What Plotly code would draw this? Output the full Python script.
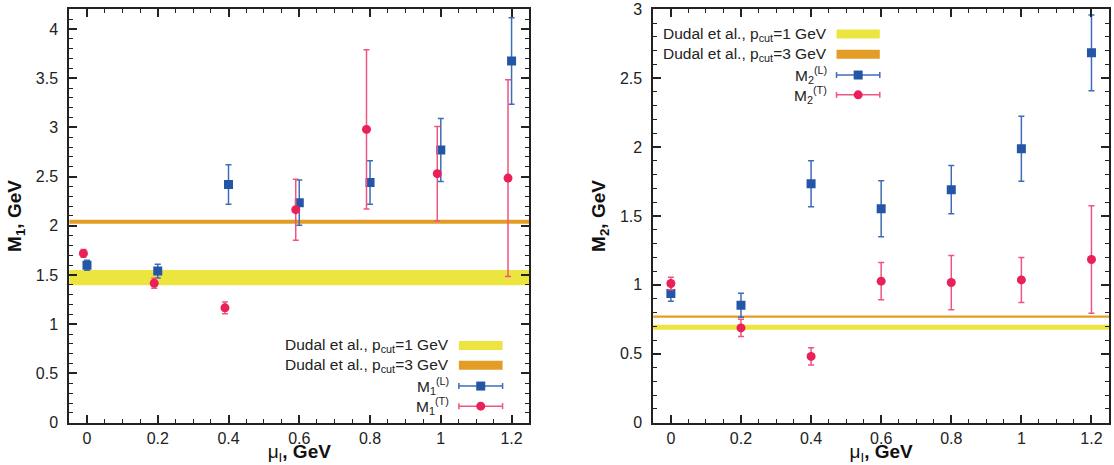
import plotly.graph_objects as go

# ---------------- data ----------------
mu = [0.0, 0.2, 0.4, 0.6, 0.8, 1.0, 1.2]
mu_T_left = [-0.01, 0.19, 0.39, 0.59, 0.79, 0.99, 1.19]

M1_L = [1.60, 1.54, 2.42, 2.235, 2.44, 2.77, 3.675]
M1_L_err = [0.05, 0.07, 0.20, 0.23, 0.22, 0.32, 0.44]
M1_T = [1.72, 1.417, 1.167, 2.164, 2.98, 2.53, 2.485]
M1_T_err = [0.04, 0.05, 0.06, 0.31, 0.81, 0.48, 1.0]

M2_L = [0.937, 0.853, 1.734, 1.553, 1.691, 1.988, 2.684]
M2_L_err = [0.055, 0.087, 0.167, 0.203, 0.175, 0.235, 0.275]
M2_T = [1.01, 0.688, 0.481, 1.027, 1.017, 1.036, 1.184]
M2_T_err = [0.046, 0.063, 0.062, 0.135, 0.197, 0.163, 0.39]

M1_band_p1 = [1.396, 1.552]
M1_band_p3 = [2.022, 2.062]
M2_band_p1 = [0.674, 0.711]
M2_band_p3 = [0.762, 0.778]

legend_left = ["Dudal et al., p<sub>cut</sub>=1 GeV", "Dudal et al., p<sub>cut</sub>=3 GeV",
               "M<sub>1</sub><sup>(L)</sup>", "M<sub>1</sub><sup>(T)</sup>"]
legend_right = ["Dudal et al., p<sub>cut</sub>=1 GeV", "Dudal et al., p<sub>cut</sub>=3 GeV",
                "M<sub>2</sub><sup>(L)</sup>", "M<sub>2</sub><sup>(T)</sup>"]

# ---------------- style ----------------
FONT = "Liberation Sans, Arial, Helvetica, sans-serif"
BLUE = "#2356a6"
BLUE_ERR = "#3d6cb8"
RED = "#ea2159"
RED_ERR = "#ee5580"
YELLOW = "#ece540"
ORANGE = "#e39d27"

fig = go.Figure()


def add_series(x, y, err, sym, color, ecolor, size, xa, ya):
    fig.add_trace(go.Scatter(
        x=x, y=y, mode="markers", xaxis=xa, yaxis=ya, showlegend=False,
        marker=dict(symbol=sym, size=size, color=color, line=dict(width=0)),
        error_y=dict(type="data", array=err, visible=True, color=ecolor,
                     thickness=1.5, width=3),
    ))


add_series(mu, M1_L, M1_L_err, "square", BLUE, BLUE_ERR, 9, "x", "y")
add_series(mu_T_left, M1_T, M1_T_err, "circle", RED, RED_ERR, 9, "x", "y")
add_series(mu, M2_L, M2_L_err, "square", BLUE, BLUE_ERR, 9, "x2", "y2")
add_series(mu, M2_T, M2_T_err, "circle", RED, RED_ERR, 9, "x2", "y2")

shapes = []
annotations = []


def bands(xr, yr, b1, b3):
    shapes.append(dict(type="rect", xref=xr + " domain", yref=yr, x0=0, x1=1,
                       y0=b1[0], y1=b1[1], fillcolor=YELLOW, line=dict(width=0),
                       layer="below"))
    shapes.append(dict(type="rect", xref=xr + " domain", yref=yr, x0=0, x1=1,
                       y0=b3[0], y1=b3[1], fillcolor=ORANGE, line=dict(width=0),
                       layer="below"))


bands("x", "y", M1_band_p1, M1_band_p3)
bands("x2", "y2", M2_band_p1, M2_band_p3)


def legend(xr, yr, labels, text_x, sw0, sw1, rows):
    xd, yd = xr + " domain", yr + " domain"
    cx = (sw0 + sw1) / 2
    for i, (lab, ry) in enumerate(zip(labels, rows)):
        annotations.append(dict(xref=xd, yref=yd, x=text_x, y=ry, text=lab,
                                showarrow=False, xanchor="right", yanchor="middle",
                                font=dict(family=FONT, size=15.5, color="#222")))
        if i < 2:
            shapes.append(dict(type="rect", xref=xd, yref=yd, x0=sw0, x1=sw1,
                               ysizemode="pixel", yanchor=ry, y0=-4.5, y1=4.5,
                               fillcolor=YELLOW if i == 0 else ORANGE,
                               line=dict(width=0)))
        else:
            col = BLUE if i == 2 else RED
            ecol = BLUE_ERR if i == 2 else RED_ERR
            shapes.append(dict(type="line", xref=xd, yref=yd, x0=sw0, x1=sw1,
                               y0=ry, y1=ry, line=dict(color=ecol, width=1.5)))
            for sx in (sw0, sw1):
                shapes.append(dict(type="line", xref=xd, yref=yd, x0=sx, x1=sx,
                                   ysizemode="pixel", yanchor=ry, y0=-3, y1=3,
                                   line=dict(color=ecol, width=1.5)))
            shapes.append(dict(type="rect" if i == 2 else "circle", xref=xd, yref=yd,
                               xsizemode="pixel", ysizemode="pixel",
                               xanchor=cx, yanchor=ry, x0=-4.5, x1=4.5, y0=-4.5, y1=4.5,
                               fillcolor=col, line=dict(width=0)))


legend("x", "y", legend_left, 0.830, 0.847, 0.942, [0.187, 0.139, 0.0886, 0.040])
legend("x2", "y2", legend_right, 0.385, 0.402, 0.497, [0.940, 0.891, 0.841, 0.793])

tickfont = dict(family=FONT, size=16, color="#222")
titlefont = dict(family=FONT, size=19, color="#111")


def xaxis(dom, anchor):
    return dict(domain=dom, anchor=anchor, range=[-0.05, 1.25], dtick=0.2, tick0=0,
                ticks="inside", ticklen=8, tickwidth=1.5, tickcolor="#222",
                showline=True, linewidth=2, linecolor="#222", mirror="ticks",
                showgrid=False, zeroline=False, tickfont=tickfont,
                ticklabelstandoff=0,
                minor=dict(dtick=0.05, tick0=0, ticks="inside", ticklen=4,
                           tickwidth=1.2, tickcolor="#222", showgrid=False),
                title=dict(text="μ<sub>I</sub><b>, GeV</b>", font=titlefont, standoff=6),
                automargin=False)


def yaxis(dom, anchor, rmax, title):
    return dict(domain=dom, anchor=anchor, range=[0, rmax], dtick=0.5, tick0=0,
                ticks="inside", ticklen=8, tickwidth=1.5, tickcolor="#222",
                showline=True, linewidth=2, linecolor="#222", mirror="ticks",
                showgrid=False, zeroline=False, tickfont=tickfont,
                ticklabelstandoff=6,
                minor=dict(dtick=0.1, tick0=0, ticks="inside", ticklen=4,
                           tickwidth=1.2, tickcolor="#222", showgrid=False),
                title=dict(text=title, font=titlefont, standoff=9),
                automargin=False)


ydom = [0.091, 0.980]
fig.update_layout(
    width=1114, height=465,
    margin=dict(l=0, r=0, t=0, b=0),
    paper_bgcolor="white", plot_bgcolor="white",
    font=dict(family=FONT),
    showlegend=False,
    xaxis=xaxis([0.0622, 0.4751], "y"),
    yaxis=yaxis(ydom, "x", 4.2, "<b>M<sub>1</sub>, GeV</b>"),
    xaxis2=xaxis([0.5865, 0.9955], "y2"),
    yaxis2=yaxis(ydom, "x2", 3.0, "<b>M<sub>2</sub>, GeV</b>"),
    shapes=shapes,
    annotations=annotations,
)

fig.write_html(
    "out.html",
    config={"displayModeBar": False},
    post_script="document.body.style.margin='0';document.body.style.overflow='hidden';",
)
